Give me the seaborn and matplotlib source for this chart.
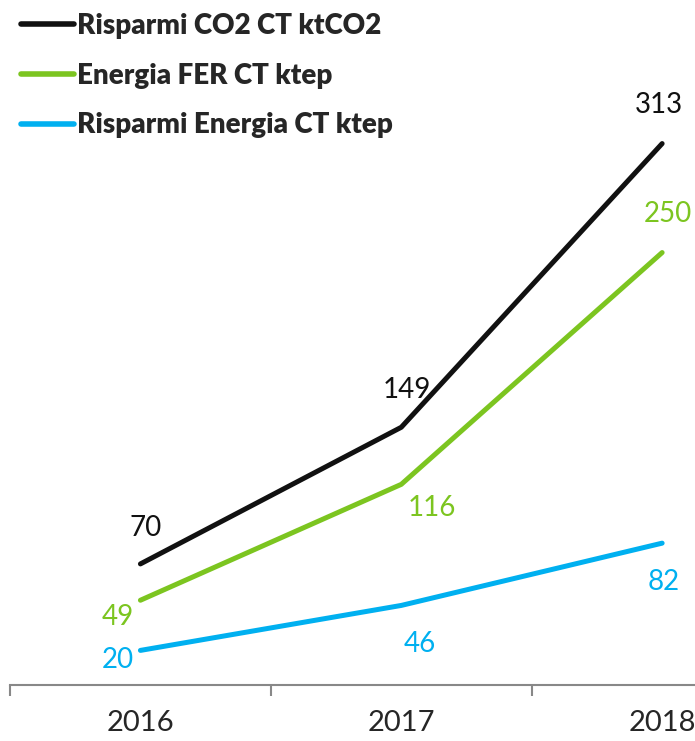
import pandas as pd
import matplotlib.pyplot as plt
import seaborn as sns

# Data
years = ['2016', '2017', '2018']
series_names = ['Risparmi CO2 CT ktCO2', 'Energia FER CT ktep', 'Risparmi Energia CT ktep']
co2 = [70, 149, 313]
fer = [49, 116, 250]
energia = [20, 46, 82]
colors = ['#111111', '#7cc520', '#00b0f0']

rows = []
for name, vals in zip(series_names, [co2, fer, energia]):
    for i, v in enumerate(vals):
        rows.append({'pos': i, 'value': v, 'series': name})
df = pd.DataFrame(rows)

sns.set_style('white')
plt.rcParams['font.family'] = ['Lato', 'DejaVu Sans']

fig = plt.figure(figsize=(6.95, 7.41), dpi=100)
ax = fig.add_axes([10 / 695, 1 - 685 / 741, 1 - 10 / 695, 685 / 741])

sns.lineplot(data=df, x='pos', y='value', hue='series', palette=colors,
             hue_order=series_names, linewidth=3.6, ax=ax, legend=True)
for line in ax.get_lines():
    line.set_solid_capstyle('round')

ax.set_xlim(-0.5, 2.126)
ax.set_ylim(0, 396)
ax.set_xlabel('')
ax.set_ylabel('')
ax.set_yticks([])
for s in ['top', 'right', 'left']:
    ax.spines[s].set_visible(False)
ax.spines['bottom'].set_color('#888888')
ax.spines['bottom'].set_linewidth(1.5)

ax.set_xticks([-0.5, 0.5, 1.5])
ax.set_xticklabels([])
ax.tick_params(axis='x', which='major', length=8, width=1.5, color='#888888', direction='out', bottom=True)
ax.set_xticks([0, 1, 2], minor=True)
ax.set_xticklabels(years, minor=True, fontsize=21)
ax.tick_params(axis='x', which='minor', length=0, pad=18)

# Data labels (offsets in points)
offsets = {
    0: [(4, 26), (-16, -12), (-16, -7)],
    1: [(4, 27), (22, -17), (13, -28)],
    2: [(-2, 28), (4, 28), (1, -28)],
}
for j, vals in enumerate([co2, fer, energia]):
    for i, v in enumerate(vals):
        dx, dy = offsets[i][j]
        ax.annotate(str(v), (i, v), xytext=(dx, dy), textcoords='offset points',
                    ha='center', va='center', fontsize=20, color=colors[j])

leg = ax.legend(loc='upper left', bbox_to_anchor=(10 / 695, 1 - 2 / 741),
                bbox_transform=fig.transFigure, frameon=False, handlelength=1.9,
                handletextpad=0.1, labelspacing=0.85, borderaxespad=0,
                prop={'weight': 'heavy', 'size': 20})
for h in leg.get_lines():
    h.set_linewidth(4)
    h.set_solid_capstyle('round')

plt.savefig('out.png', dpi=100)
